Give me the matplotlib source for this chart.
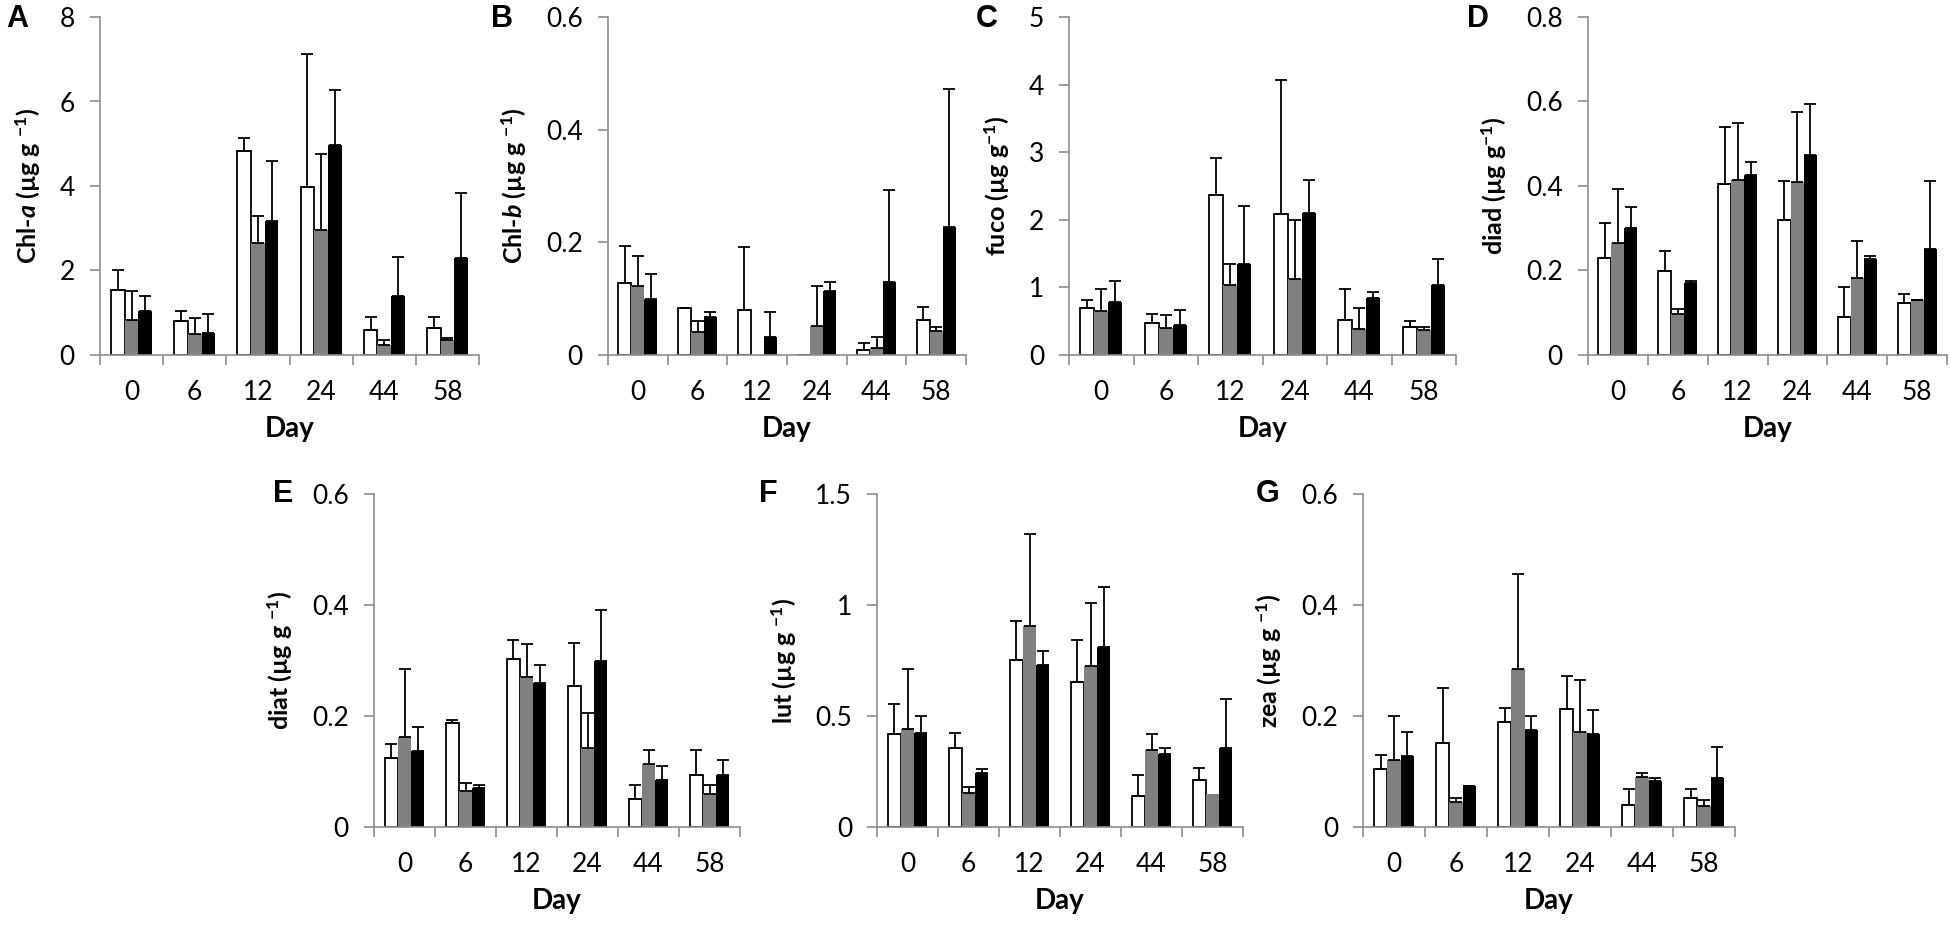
import numpy as np
import matplotlib
matplotlib.use('Agg')
import matplotlib.pyplot as plt
from matplotlib.ticker import FuncFormatter, MultipleLocator, FixedLocator

plt.rcParams['font.family'] = ['Lato', 'DejaVu Sans']
plt.rcParams['mathtext.fontset'] = 'custom'
plt.rcParams['mathtext.rm'] = 'Lato:bold'
plt.rcParams['mathtext.it'] = 'Lato:italic:bold'
plt.rcParams['mathtext.bf'] = 'Lato:bold'

days = ['0', '6', '12', '24', '44', '58']

# Chl-a
chla_w = [1.53, 0.80, 4.84, 3.98, 0.58, 0.64]
chla_w_sd = [0.47, 0.25, 0.30, 3.15, 0.33, 0.27]
chla_g = [0.83, 0.50, 2.64, 2.95, 0.23, 0.35]
chla_g_sd = [0.68, 0.38, 0.64, 1.80, 0.13, 0.05]
chla_b = [1.05, 0.53, 3.16, 4.98, 1.40, 2.29]
chla_b_sd = [0.35, 0.45, 1.43, 1.29, 0.93, 1.55]

# Chl-b
chlb_w = [0.128, 0.083, 0.080, 0.0, 0.008, 0.063]
chlb_w_sd = [0.066, 0.001, 0.111, 0.0, 0.013, 0.023]
chlb_g = [0.122, 0.040, 0.0, 0.051, 0.0125, 0.042]
chlb_g_sd = [0.054, 0.020, 0.0, 0.071, 0.019, 0.008]
chlb_b = [0.099, 0.067, 0.032, 0.113, 0.130, 0.227]
chlb_b_sd = [0.045, 0.010, 0.044, 0.016, 0.163, 0.246]

# fuco
fuco_w = [0.70, 0.47, 2.37, 2.09, 0.52, 0.42]
fuco_w_sd = [0.11, 0.14, 0.55, 1.98, 0.46, 0.09]
fuco_g = [0.65, 0.40, 1.03, 1.13, 0.39, 0.37]
fuco_g_sd = [0.33, 0.19, 0.32, 0.87, 0.31, 0.05]
fuco_b = [0.78, 0.45, 1.35, 2.10, 0.84, 1.03]
fuco_b_sd = [0.32, 0.21, 0.86, 0.49, 0.09, 0.39]

# diad
diad_w = [0.230, 0.198, 0.405, 0.320, 0.091, 0.122]
diad_w_sd = [0.082, 0.048, 0.135, 0.093, 0.070, 0.022]
diad_g = [0.266, 0.098, 0.415, 0.409, 0.182, 0.130]
diad_g_sd = [0.127, 0.010, 0.133, 0.167, 0.089, 0.001]
diad_b = [0.300, 0.170, 0.426, 0.474, 0.227, 0.250]
diad_b_sd = [0.050, 0.006, 0.030, 0.121, 0.007, 0.161]

# diat
diat_w = [0.125, 0.188, 0.303, 0.254, 0.050, 0.093]
diat_w_sd = [0.025, 0.004, 0.034, 0.078, 0.025, 0.045]
diat_g = [0.163, 0.065, 0.271, 0.143, 0.113, 0.060]
diat_g_sd = [0.121, 0.015, 0.059, 0.062, 0.025, 0.015]
diat_b = [0.137, 0.070, 0.259, 0.299, 0.085, 0.093]
diat_b_sd = [0.043, 0.005, 0.033, 0.092, 0.025, 0.027]

# lut
lut_w = [0.42, 0.355, 0.754, 0.651, 0.14, 0.21]
lut_w_sd = [0.135, 0.07, 0.176, 0.19, 0.095, 0.055]
lut_g = [0.44, 0.155, 0.904, 0.725, 0.345, 0.15]
lut_g_sd = [0.27, 0.025, 0.416, 0.284, 0.075, 0.0]
lut_b = [0.425, 0.245, 0.731, 0.810, 0.33, 0.355]
lut_b_sd = [0.075, 0.015, 0.064, 0.269, 0.025, 0.223]

# zea
zea_w = [0.105, 0.152, 0.19, 0.212, 0.04, 0.053]
zea_w_sd = [0.025, 0.098, 0.024, 0.06, 0.028, 0.015]
zea_g = [0.12, 0.045, 0.284, 0.172, 0.09, 0.038]
zea_g_sd = [0.08, 0.007, 0.172, 0.093, 0.007, 0.01]
zea_b = [0.128, 0.073, 0.175, 0.168, 0.082, 0.088]
zea_b_sd = [0.044, 0.001, 0.025, 0.042, 0.006, 0.057]

W, H = 1950, 927
fig = plt.figure(figsize=(W / 100, H / 100), dpi=100)

axis_grey = '#8c8c8c'


def px_axes(left, right, top, bottom):
    return [left / W, 1 - bottom / H, (right - left) / W, (bottom - top) / H]


def panel(rect, letter, letter_xy, ylabel, ymax, ystep, series):
    ax = fig.add_axes(px_axes(*rect))
    x = np.arange(len(days)) + 0.5
    bw = 0.217
    styles = [('white', 'black', 1.3), ('#808080', '#808080', 0), ('black', 'black', 0)]
    for i, (vals, sd) in enumerate(series):
        fc, ec, lw = styles[i]
        xs = x + (i - 1) * bw
        vals = np.array(vals)
        sd = np.array(sd)
        ax.bar(xs, vals, width=bw, color=fc, edgecolor=ec, linewidth=lw, zorder=2)
        m = sd > 0
        ax.errorbar(xs[m], vals[m], yerr=[np.zeros(m.sum()), sd[m]], fmt='none',
                    ecolor='black', elinewidth=1.3, capsize=4.3, capthick=1.3, zorder=3)
    ax.set_xlim(0, len(days))
    ax.set_ylim(0, ymax)
    for s in ['top', 'right']:
        ax.spines[s].set_visible(False)
    for s in ['left', 'bottom']:
        ax.spines[s].set_color(axis_grey)
        ax.spines[s].set_linewidth(1.2)
    ax.yaxis.set_major_locator(MultipleLocator(ystep))
    ax.yaxis.set_major_formatter(FuncFormatter(lambda v, p: '%g' % round(v, 3)))
    ax.tick_params(axis='y', direction='out', length=7, width=1.2, color=axis_grey,
                   labelsize=19, pad=11)
    ax.xaxis.set_major_locator(FixedLocator(np.arange(len(days) + 1)))
    ax.xaxis.set_major_formatter(FuncFormatter(lambda v, p: ''))
    ax.set_xticks(x, minor=True)
    ax.set_xticklabels(days, minor=True)
    ax.tick_params(axis='x', which='major', direction='out', length=7, width=1.2,
                   color=axis_grey)
    ax.tick_params(axis='x', which='minor', length=0, labelsize=19, pad=18)
    ax.set_xlabel('Day', fontsize=20, fontweight='bold', labelpad=8)
    ax.set_ylabel(ylabel, fontsize=18, fontweight='bold', labelpad=12)
    fig.text(letter_xy[0] / W, 1 - letter_xy[1] / H, letter, fontsize=22,
             fontweight='bold', family='Liberation Sans', ha='center', va='center')
    return ax


top_y = (17, 355)
bot_y = (494, 827)

panel((100, 479) + top_y, 'A', (17, 19), r'Chl-$a$ (µg g $^{-1}$)', 8, 2,
      [(chla_w, chla_w_sd), (chla_g, chla_g_sd), (chla_b, chla_b_sd)])
panel((608, 966) + top_y, 'B', (502, 19), r'Chl-$b$ (µg g $^{-1}$)', 0.6, 0.2,
      [(chlb_w, chlb_w_sd), (chlb_g, chlb_g_sd), (chlb_b, chlb_b_sd)])
panel((1069, 1456) + top_y, 'C', (987, 19), r'fuco (µg g$^{-1}$)', 5, 1,
      [(fuco_w, fuco_w_sd), (fuco_g, fuco_g_sd), (fuco_b, fuco_b_sd)])
panel((1588, 1947) + top_y, 'D', (1478, 19), r'diad (µg g$^{-1}$)', 0.8, 0.2,
      [(diad_w, diad_w_sd), (diad_g, diad_g_sd), (diad_b, diad_b_sd)])
panel((374, 740) + bot_y, 'E', (283, 494), r'diat (µg g $^{-1}$)', 0.6, 0.2,
      [(diat_w, diat_w_sd), (diat_g, diat_g_sd), (diat_b, diat_b_sd)])
panel((877, 1243) + bot_y, 'F', (768, 494), r'lut (µg g $^{-1}$)', 1.5, 0.5,
      [(lut_w, lut_w_sd), (lut_g, lut_g_sd), (lut_b, lut_b_sd)])
panel((1363, 1735) + bot_y, 'G', (1268, 494), r'zea (µg g $^{-1}$)', 0.6, 0.2,
      [(zea_w, zea_w_sd), (zea_g, zea_g_sd), (zea_b, zea_b_sd)])

fig.savefig('out.png', dpi=100)
